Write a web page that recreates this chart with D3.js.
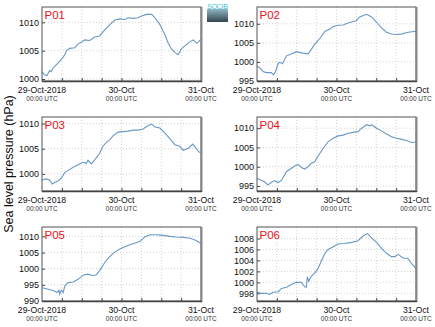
<!DOCTYPE html>
<html><head><meta charset="utf-8">
<script src="https://cdn.jsdelivr.net/npm/d3@7"></script>
<style>
body{margin:0;background:#fff;}
svg{display:block;font-family:"Liberation Sans",Arial,sans-serif;}
</style></head>
<body><svg id="c" width="435" height="327"></svg>
<script>
// ---- data (hours since 29-Oct-2018 00:00 UTC, hPa) ----
const stations = ["P01","P02","P03","P04","P05","P06"];
const xTickLabels = ["29-Oct-2018","30-Oct","31-Oct"];
const xTickHours = [0,24,48];
const xSubLabel = "00:00 UTC";
const yLabel = "Sea level pressure (hPa)";

const p01 = [[0,1001.3],[0.8,1000.7],[1.5,1000.6],[2.3,1001.5],[2.8,1001.3],[3.3,1001.9],[4.3,1002.5],[5.8,1003.4],[6.9,1004.3],[7.4,1005.0],[8.4,1005.4],[9.9,1005.5],[10.9,1006.2],[11.9,1006.5],[12.9,1006.9],[14.4,1006.8],[15.9,1007.4],[17.4,1007.6],[19.0,1008.7],[20.5,1009.6],[22.0,1010.4],[23.5,1010.6],[25.0,1010.5],[26.0,1010.8],[27.5,1010.7],[29.0,1010.8],[30.0,1011.1],[31.6,1011.4],[33.1,1011.4],[34.1,1010.8],[35.6,1009.6],[37.1,1007.8],[38.1,1006.3],[39.1,1005.3],[40.1,1004.7],[41.1,1004.3],[42.1,1005.3],[43.2,1005.9],[44.7,1006.6],[45.7,1006.9],[46.7,1006.3],[48,1007.0]];
const p02 = [[0,998.9],[0.8,998.5],[1.8,997.5],[2.8,997.2],[4.3,997.2],[5.0,996.6],[5.6,997.5],[6.4,999.6],[6.9,999.9],[7.7,999.5],[8.9,1001.6],[10.4,1002.1],[11.9,1002.7],[12.9,1002.5],[13.9,1002.3],[15.4,1002.1],[16.4,1003.3],[17.4,1004.6],[19.0,1006.2],[20.5,1008.0],[22.0,1008.6],[23.0,1009.3],[24.5,1009.6],[26.0,1009.7],[27.5,1010.2],[29.0,1010.6],[30.0,1010.8],[31.0,1011.8],[32.1,1012.2],[33.1,1012.5],[34.6,1011.8],[36.1,1010.4],[37.6,1008.9],[39.1,1007.8],[40.6,1007.3],[42.1,1007.2],[43.7,1007.3],[45.2,1007.7],[46.7,1007.9],[48,1008.0]];
const p03 = [[0,998.8],[1.3,999.0],[2.3,998.8],[3.1,998.0],[3.8,998.3],[4.8,998.6],[5.8,999.1],[6.9,1000.3],[8.4,1000.9],[9.4,1001.3],[10.9,1001.8],[12.4,1002.3],[13.4,1002.1],[13.9,1002.7],[14.9,1002.0],[15.9,1002.8],[17.4,1004.1],[18.4,1005.5],[19.5,1006.3],[20.5,1006.8],[21.5,1007.6],[23.0,1008.3],[24.5,1008.4],[26.0,1008.5],[27.5,1008.7],[29.0,1008.7],[30.5,1008.9],[32.1,1009.6],[33.1,1009.9],[34.1,1009.3],[35.6,1009.1],[37.1,1008.1],[38.6,1007.0],[40.1,1005.8],[41.6,1005.5],[42.6,1004.7],[44.2,1005.1],[45.5,1005.9],[46.2,1005.3],[46.7,1004.9],[47.5,1004.3],[48,1004.3]];
const p04 = [[0,997.0],[1.3,996.5],[2.3,996.1],[3.3,995.3],[4.3,995.9],[5.3,996.4],[6.4,995.9],[7.4,996.5],[8.9,998.7],[10.4,999.6],[11.4,1000.2],[12.4,1000.6],[13.4,999.8],[14.4,999.4],[15.4,1000.0],[16.4,1000.9],[17.4,1001.3],[18.4,1002.7],[20.0,1004.8],[21.5,1006.5],[23.0,1007.4],[24.5,1008.0],[26.0,1008.2],[27.5,1008.7],[29.0,1008.9],[30.5,1009.1],[31.6,1010.0],[33.1,1010.9],[34.1,1010.6],[34.6,1010.9],[36.1,1010.0],[37.6,1009.3],[39.1,1008.5],[40.6,1007.8],[42.1,1007.4],[43.7,1007.1],[45.2,1006.8],[46.7,1006.3],[48,1006.4]];
const p05 = [[0,994.1],[1.3,993.8],[2.8,993.4],[3.8,993.1],[4.5,992.6],[5.1,993.3],[5.3,992.1],[5.8,993.3],[6.4,992.6],[6.9,994.7],[7.9,995.7],[9.4,995.9],[10.9,996.7],[12.4,998.0],[13.9,998.3],[15.4,997.8],[16.4,998.1],[17.4,999.4],[19.0,1002.0],[20.5,1003.8],[22.0,1005.2],[23.5,1006.1],[25.5,1007.0],[27.5,1007.7],[29.5,1008.4],[31.0,1009.8],[32.6,1010.5],[34.6,1010.5],[36.6,1010.3],[38.6,1010.0],[40.6,1009.8],[42.6,1009.7],[44.7,1009.4],[46.2,1008.9],[48,1007.9]];
const p06 = [[0,998.2],[1.3,998.0],[2.8,998.0],[3.8,997.8],[4.8,998.2],[6.4,998.3],[7.4,998.9],[8.9,999.1],[10.4,999.6],[11.9,1000.0],[13.4,1000.0],[14.4,999.2],[14.9,999.1],[15.2,1001.0],[15.6,1000.2],[16.4,1001.1],[17.4,1001.7],[18.4,1002.5],[19.5,1004.0],[20.5,1005.3],[21.5,1006.0],[23.0,1006.5],[24.5,1007.0],[26.5,1007.1],[28.5,1007.3],[30.5,1007.6],[32.1,1008.5],[33.4,1008.9],[34.6,1008.1],[36.1,1007.3],[37.6,1006.2],[39.1,1005.3],[40.6,1004.7],[41.6,1004.7],[42.6,1005.1],[44.2,1004.4],[45.5,1004.4],[46.7,1003.4],[48,1002.5]];
const series = [p01,p02,p03,p04,p05,p06];
const yDomains = [[999.65,1012.7],[995,1014.4],[996.6,1011.3],[993.7,1012.9],[990,1012.9],[996.6,1010.1]];
const yTicks = [[1000,1005,1010],[995,1000,1005,1010],[1000,1005,1010],[995,1000,1005,1010],[990,995,1000,1005,1010],[998,1000,1002,1004,1006,1008]];
const gridHours = [6,12,18,24,30,36,42];

// ---- layout ----
const svg = d3.select("#c");
const colX = [42,257], rowY = [7,117,227], W = 159, H = 74;
const lineColor = "#6898c6";

// logo
const defs = svg.append("defs");
const grad = defs.append("linearGradient").attr("id","lg").attr("x1",0).attr("y1",0).attr("x2",0).attr("y2",1);
grad.append("stop").attr("offset","0%").attr("stop-color","#8fb6c4");
grad.append("stop").attr("offset","100%").attr("stop-color","#34434f");
svg.append("rect").attr("x",207).attr("y",9).attr("width",21).attr("height",13).attr("fill","url(#lg)");
svg.append("text").attr("x",217.5).attr("y",8.5).attr("text-anchor","middle").attr("font-size",7).attr("fill","#3cc3d8").attr("letter-spacing","-0.3").text("SOCIB");

// y label
svg.append("text").attr("transform","translate(13,164) rotate(-90)").attr("text-anchor","middle")
  .attr("font-size",12.5).attr("fill","#111").text(yLabel);

stations.forEach((name,i)=>{
  const x0 = colX[i%2], y0 = rowY[Math.floor(i/2)];
  const g = svg.append("g").attr("transform",`translate(${x0},${y0})`);
  const x = d3.scaleLinear().domain([0,48]).range([0,W]);
  const y = d3.scaleLinear().domain(yDomains[i]).range([H,0]);
  // grid
  g.selectAll(".gv").data(gridHours).join("line")
    .attr("x1",d=>x(d)).attr("x2",d=>x(d)).attr("y1",0).attr("y2",H)
    .attr("stroke","#c8c8c8").attr("stroke-width",0.8).attr("stroke-dasharray","1,2");
  g.selectAll(".gh").data(yTicks[i]).join("line")
    .attr("x1",0).attr("x2",W).attr("y1",d=>y(d)).attr("y2",d=>y(d))
    .attr("stroke","#c8c8c8").attr("stroke-width",0.8).attr("stroke-dasharray","1,2");
  // y axis
  const ya = g.append("g").call(d3.axisLeft(y).tickValues(yTicks[i]).tickSize(-3).tickPadding(3).tickFormat(d3.format("d")));
  ya.select(".domain").remove();
  ya.selectAll("line").attr("stroke","#444");
  ya.selectAll("text").attr("font-size",9).attr("fill","#111").attr("dy","0.3em").attr("font-family","Liberation Sans, Arial, sans-serif");
  // x ticks (6h, inward)
  const xa = g.append("g").attr("transform",`translate(0,${H})`)
    .call(d3.axisBottom(x).tickValues(gridHours).tickSize(-3).tickFormat(""));
  xa.select(".domain").remove();
  xa.selectAll("line").attr("stroke","#444");
  // x labels
  xTickHours.forEach((hh,k)=>{
    g.append("text").attr("x",x(hh)).attr("y",H+11.7).attr("text-anchor","middle")
      .attr("font-size",8.7).attr("fill","#111").text(xTickLabels[k]);
    g.append("text").attr("x",x(hh)).attr("y",H+19.8).attr("text-anchor","middle")
      .attr("font-size",6.5).attr("fill","#333").text(xSubLabel);
  });
  // line
  g.append("path").datum(series[i])
    .attr("d",d3.line().x(d=>x(d[0])).y(d=>y(d[1])))
    .attr("fill","none").attr("stroke",lineColor).attr("stroke-width",1.1);
  // frame
  g.append("rect").attr("x",0).attr("y",0).attr("width",W).attr("height",H)
    .attr("fill","none").attr("stroke","#555").attr("stroke-width",1);
  g.append("line").attr("x1",W+0.5).attr("x2",W+0.5).attr("y1",0).attr("y2",H+1)
    .attr("stroke","#888").attr("stroke-width",2);
  g.append("line").attr("x1",0).attr("x2",W+1).attr("y1",H+0.5).attr("y2",H+0.5)
    .attr("stroke","#444").attr("stroke-width",1.5);
  // station label
  g.append("text").attr("x",2.5).attr("y",12).attr("font-size",11.5).attr("fill","#e8141c").text(name);
});
</script></body></html>
